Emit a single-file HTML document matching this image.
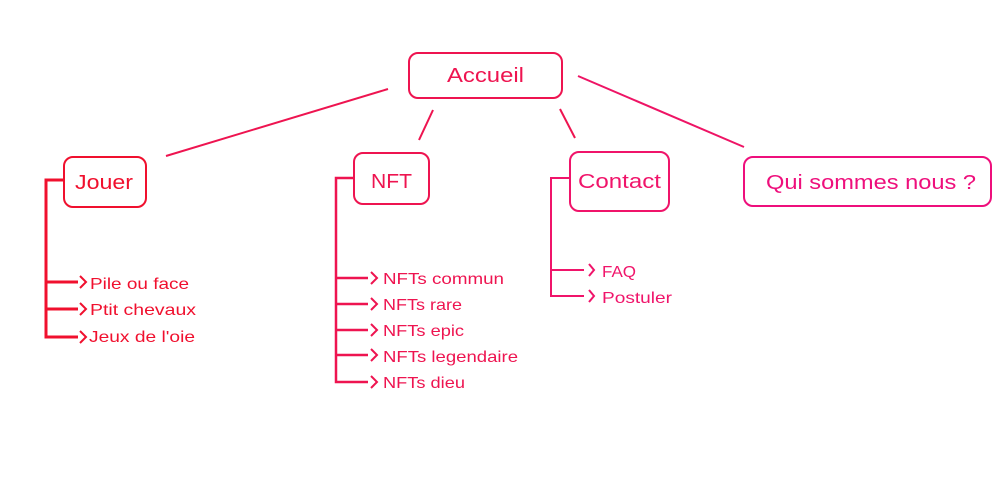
<!DOCTYPE html>
<html><head><meta charset="utf-8"><style>
html,body{margin:0;padding:0;background:#fff;}
svg{display:block;}
text{font-family:"Liberation Sans",sans-serif;}
</style></head><body>
<svg width="1000" height="500" viewBox="0 0 1000 500" xmlns="http://www.w3.org/2000/svg">
<g fill="none" stroke-width="2">
 <!-- connectors from Accueil -->
 <g stroke="#ee1450">
  <line x1="166" y1="156" x2="388" y2="89"/>
  <line x1="419" y1="140" x2="433" y2="110"/>
  <line x1="560" y1="109" x2="575" y2="138"/>
 </g>
 <line x1="578" y1="76" x2="744" y2="147" stroke="#ee1465"/>
 <!-- boxes -->
 <rect x="409" y="53" width="153" height="45" rx="9" stroke="#ee1450"/>
 <rect x="64" y="157" width="82" height="50" rx="9" stroke="#f0102e"/>
 <rect x="354" y="153" width="75" height="51" rx="9" stroke="#ee1450"/>
 <rect x="570" y="152" width="99" height="59" rx="9" stroke="#f0146a"/>
 <rect x="744" y="157" width="247" height="49" rx="9" stroke="#ee0f7c"/>
 <!-- Jouer bracket -->
 <g stroke="#f0102e" stroke-width="3">
  <polyline points="64,180 46,180 46,337 78,337"/>
  <line x1="46" y1="282" x2="78" y2="282"/>
  <line x1="46" y1="309" x2="78" y2="309"/>
 </g>
 <g stroke="#f0102e" stroke-width="2">
  <polyline points="80,276 86,282 80,288"/>
  <polyline points="80,303 86,309 80,315"/>
  <polyline points="80,331 86,337 80,343"/>
 </g>
 <!-- NFT bracket -->
 <g stroke="#ee1450" stroke-width="2.5">
  <polyline points="354,178 336,178 336,382 368,382"/>
  <line x1="336" y1="278" x2="368" y2="278"/>
  <line x1="336" y1="304" x2="368" y2="304"/>
  <line x1="336" y1="330" x2="368" y2="330"/>
  <line x1="336" y1="355" x2="368" y2="355"/>
 </g>
 <g stroke="#ee1450" stroke-width="2">
  <polyline points="371,272 377,278 371,284"/>
  <polyline points="371,298 377,304 371,310"/>
  <polyline points="371,324 377,330 371,336"/>
  <polyline points="371,349 377,355 371,361"/>
  <polyline points="371,376 377,382 371,388"/>
 </g>
 <!-- Contact bracket -->
 <g stroke="#f0146a" stroke-width="2">
  <polyline points="570,178 551,178 551,296 584,296"/>
  <line x1="551" y1="270" x2="584" y2="270"/>
  <polyline points="589,264 594,270 589,276"/>
  <polyline points="589,290 594,296 589,302"/>
 </g>
</g>
<!-- texts -->
<g font-size="20">
 <text x="447" y="82" fill="#ee1450" textLength="77" lengthAdjust="spacingAndGlyphs">Accueil</text>
 <text x="75" y="189" fill="#f0102e" textLength="58" lengthAdjust="spacingAndGlyphs">Jouer</text>
 <text x="371" y="188" fill="#ee1450" textLength="41" lengthAdjust="spacingAndGlyphs">NFT</text>
 <text x="578" y="188" fill="#f0146a" textLength="83" lengthAdjust="spacingAndGlyphs">Contact</text>
 <text x="766" y="189" fill="#ee0f7c" textLength="210" lengthAdjust="spacingAndGlyphs">Qui sommes nous ?</text>
</g>
<g font-size="16" fill="#f0102e">
 <text x="90" y="289" textLength="99" lengthAdjust="spacingAndGlyphs">Pile ou face</text>
 <text x="90" y="315" textLength="106" lengthAdjust="spacingAndGlyphs">Ptit chevaux</text>
 <text x="89" y="342" textLength="106" lengthAdjust="spacingAndGlyphs">Jeux de l'oie</text>
</g>
<g font-size="16" fill="#ee1450">
 <text x="383" y="284" textLength="121" lengthAdjust="spacingAndGlyphs">NFTs commun</text>
 <text x="383" y="310" textLength="79" lengthAdjust="spacingAndGlyphs">NFTs rare</text>
 <text x="383" y="336" textLength="81" lengthAdjust="spacingAndGlyphs">NFTs epic</text>
 <text x="383" y="362" textLength="135" lengthAdjust="spacingAndGlyphs">NFTs legendaire</text>
 <text x="383" y="388" textLength="82" lengthAdjust="spacingAndGlyphs">NFTs dieu</text>
</g>
<g font-size="16" fill="#f0146a">
 <text x="602" y="277" textLength="34" lengthAdjust="spacingAndGlyphs">FAQ</text>
 <text x="602" y="303" textLength="70" lengthAdjust="spacingAndGlyphs">Postuler</text>
</g>
</svg>
</body></html>
